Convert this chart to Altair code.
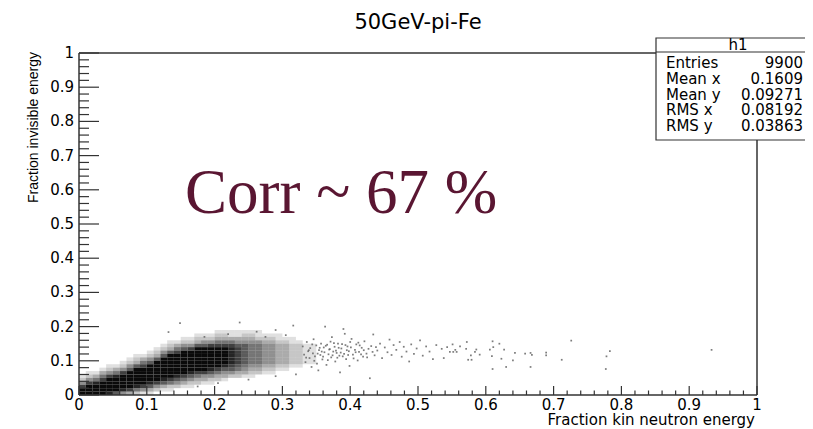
import altair as alt
import pandas as pd

# ---------------- data ----------------
title_text = "50GeV-pi-Fe"
x_title = "Fraction kin neutron energy"
y_title = "Fraction invisible energy"
annotation = "Corr ~ 67 %"
stats_header = "h1"
stats_labels = ["Entries", "Mean x", "Mean y", "RMS x", "RMS y"]
stats_values = ["9900", "0.1609", "0.09271", "0.08192", "0.03863"]

major_ticks = [0.0, 0.1, 0.2, 0.3, 0.4, 0.5, 0.6, 0.7, 0.8, 0.9, 1.0]
major_labels = ["0", "0.1", "0.2", "0.3", "0.4", "0.5", "0.6", "0.7", "0.8", "0.9", "1"]
minor_ticks = [0.02, 0.04, 0.06, 0.08, 0.12, 0.14, 0.16, 0.18, 0.22, 0.24, 0.26, 0.28,
               0.32, 0.34, 0.36, 0.38, 0.42, 0.44, 0.46, 0.48, 0.52, 0.54, 0.56, 0.58,
               0.62, 0.64, 0.66, 0.68, 0.72, 0.74, 0.76, 0.78, 0.82, 0.84, 0.86, 0.88,
               0.92, 0.94, 0.96, 0.98]

# density of the dense scatter core: one string per 0.01-wide x bin (x = 0.00 ...),
# each character = darkness (0-9) of the 0.01-high y bin, from y = 0 upward
bin_size = 0.01
density_columns = [
    "9974210000000000000000",
    "9997421000000000000000",
    "9998531000000000000000",
    "9999753100000000000000",
    "8999974210000000000000",
    "6999985310000000000000",
    "4899997421000000000000",
    "3799999642100000000000",
    "2589999963210000000000",
    "1479999975310000000000",
    "1368999996421000000000",
    "0247999999632100000000",
    "0136899999964210000000",
    "0125799999996321000000",
    "0024689999997531000000",
    "0013579999999642100000",
    "0012468999999742100000",
    "0002357999999963210000",
    "0001347999999964210000",
    "0001246899999974210000",
    "0000235799999975321000",
    "0000134689999975321000",
    "0000024678888875311000",
    "0000023567777764311000",
    "0000013456666664321000",
    "0000012345555554321000",
    "0000002345555554211000",
    "0000001234444443210000",
    "0000001234444443210000",
    "0000000123333332110000",
    "0000000123333332100000",
    "0000000012222221100000",
    "0000000012222221000000",
    "0000000001111110000000",
    "0000000001111110000000",
]

# isolated points of the sparse tail
sparse_x = [0.132, 0.149, 0.237, 0.316, 0.185, 0.262, 0.290, 0.305, 0.275, 0.220,
            0.205, 0.250, 0.290, 0.320, 0.175,
            0.330, 0.332, 0.334, 0.336, 0.338, 0.340, 0.341, 0.343, 0.345, 0.346,
            0.348, 0.350, 0.351, 0.353, 0.354, 0.356, 0.357, 0.359, 0.361, 0.362,
            0.363, 0.365, 0.366, 0.368, 0.369,
            0.371, 0.372, 0.373, 0.375, 0.377, 0.378, 0.380, 0.382, 0.384, 0.385,
            0.387, 0.388, 0.390, 0.391, 0.392, 0.394, 0.396, 0.398, 0.399, 0.400,
            0.402, 0.404, 0.407, 0.409, 0.411, 0.413, 0.414, 0.417, 0.419, 0.421,
            0.424, 0.427, 0.429, 0.431, 0.434, 0.436, 0.440, 0.444, 0.447,
            0.451, 0.455, 0.458, 0.461, 0.464, 0.468, 0.473, 0.476, 0.479, 0.483,
            0.487, 0.490, 0.494, 0.498, 0.503, 0.507, 0.512, 0.517, 0.522, 0.527,
            0.535, 0.538, 0.543, 0.547, 0.551, 0.552, 0.555, 0.557, 0.562, 0.571,
            0.572, 0.574, 0.578, 0.579, 0.584, 0.586, 0.591, 0.606, 0.609, 0.610,
            0.610, 0.611, 0.620, 0.623, 0.627, 0.630, 0.640, 0.643, 0.658, 0.666,
            0.666, 0.668, 0.689, 0.689, 0.712, 0.726, 0.777, 0.778, 0.783, 0.933,
            0.335, 0.339, 0.344, 0.347, 0.352, 0.355, 0.358, 0.360, 0.364, 0.367,
            0.370, 0.374, 0.376, 0.379, 0.381, 0.383, 0.386, 0.389, 0.393, 0.395,
            0.397, 0.401, 0.405, 0.408, 0.412, 0.416, 0.420, 0.425, 0.433, 0.438]
sparse_y = [0.184, 0.210, 0.212, 0.203, 0.170, 0.185, 0.190, 0.175, 0.170, 0.178,
            0.035, 0.045, 0.055, 0.060, 0.025,
            0.142, 0.118, 0.096, 0.155, 0.128, 0.108, 0.137, 0.082, 0.122, 0.163,
            0.113, 0.145, 0.092, 0.072, 0.131, 0.117, 0.150, 0.104, 0.139, 0.125,
            0.200, 0.088, 0.147, 0.119, 0.133,
            0.156, 0.110, 0.169, 0.127, 0.141, 0.098, 0.123, 0.150, 0.115, 0.066,
            0.136, 0.149, 0.193, 0.120, 0.179, 0.105, 0.142, 0.128, 0.085, 0.155,
            0.164, 0.118, 0.132, 0.148, 0.101, 0.126, 0.145, 0.138, 0.112, 0.157,
            0.121, 0.135, 0.049, 0.143, 0.177, 0.116, 0.130, 0.150, 0.108,
            0.139, 0.125, 0.162, 0.117, 0.146, 0.132, 0.155, 0.112, 0.141, 0.127,
            0.098, 0.148, 0.120, 0.136, 0.160, 0.115, 0.142, 0.127, 0.105, 0.146,
            0.135, 0.108, 0.140, 0.126, 0.148, 0.126, 0.132, 0.126, 0.142, 0.135,
            0.155, 0.103, 0.116, 0.103, 0.126, 0.133, 0.118, 0.133, 0.114, 0.157,
            0.076, 0.140, 0.150, 0.106, 0.133, 0.082, 0.101, 0.123, 0.121, 0.123,
            0.082, 0.117, 0.124, 0.116, 0.103, 0.159, 0.076, 0.113, 0.128, 0.132,
            0.109, 0.131, 0.148, 0.100, 0.121, 0.138, 0.127, 0.112, 0.144, 0.102,
            0.134, 0.116, 0.152, 0.130, 0.109, 0.138, 0.124, 0.113, 0.146, 0.131,
            0.117, 0.139, 0.107, 0.125, 0.153, 0.119, 0.131, 0.110, 0.126, 0.140]

# ---------------- tables ----------------
cells = []
for i, col in enumerate(density_columns):
    for j, ch in enumerate(col):
        if ch != "0":
            cells.append({"x0": i * bin_size, "x1": (i + 1) * bin_size,
                          "y0": j * bin_size, "y1": (j + 1) * bin_size,
                          "level": int(ch)})
cells_df = pd.DataFrame(cells)
sparse_df = pd.DataFrame({"x": sparse_x, "y": sparse_y})
major_df = pd.DataFrame({"v": major_ticks, "label": major_labels})
minor_df = pd.DataFrame({"v": minor_ticks})

W, H = 678, 342
LINE = "#333333"
SANS = "DejaVu Sans"
xs = alt.Scale(domain=[0, 1], nice=False, zero=False)
ys = alt.Scale(domain=[0, 1], nice=False, zero=False)


def one(text):
    return pd.DataFrame({"t": [text]})


cells_layer = alt.Chart(cells_df).mark_rect(color="black", strokeWidth=0).encode(
    x=alt.X("x0:Q", scale=xs, axis=None), x2="x1:Q",
    y=alt.Y("y0:Q", scale=ys, axis=None), y2="y1:Q",
    opacity=alt.Opacity("level:Q", scale=alt.Scale(domain=[1, 9], range=[0.12, 0.96]), legend=None),
)

sparse_layer = alt.Chart(sparse_df).mark_square(size=3, color="#666666", opacity=0.85).encode(
    x=alt.X("x:Q", scale=xs, axis=None), y=alt.Y("y:Q", scale=ys, axis=None)
)

frame = [
    alt.Chart(one("l")).mark_rule(color=LINE, strokeWidth=1.5).encode(x=alt.value(0), y=alt.value(0), y2=alt.value(H)),
    alt.Chart(one("b")).mark_rule(color=LINE, strokeWidth=1.5).encode(x=alt.value(0), x2=alt.value(W), y=alt.value(H)),
    alt.Chart(one("r")).mark_rule(color=LINE, strokeWidth=1.5).encode(x=alt.value(W), y=alt.value(0), y2=alt.value(H)),
    alt.Chart(one("t")).mark_rule(color=LINE, strokeWidth=1.5).encode(x=alt.value(0), x2=alt.value(W), y=alt.value(0)),
]

ticks = [
    alt.Chart(major_df).mark_rule(color=LINE, strokeWidth=1.2).encode(
        y=alt.Y("v:Q", scale=ys, axis=None), x=alt.value(0), x2=alt.value(20)),
    alt.Chart(minor_df).mark_rule(color=LINE, strokeWidth=1.2).encode(
        y=alt.Y("v:Q", scale=ys, axis=None), x=alt.value(0), x2=alt.value(10)),
    alt.Chart(major_df).mark_rule(color=LINE, strokeWidth=1.2).encode(
        x=alt.X("v:Q", scale=xs, axis=None), y=alt.value(H), y2=alt.value(H - 9)),
    alt.Chart(minor_df).mark_rule(color=LINE, strokeWidth=1.2).encode(
        x=alt.X("v:Q", scale=xs, axis=None), y=alt.value(H), y2=alt.value(H - 4.5)),
]

tick_labels = [
    alt.Chart(major_df).mark_text(font=SANS, fontSize=15, align="right", baseline="middle",
                                  dx=-5, color="black").encode(
        y=alt.Y("v:Q", scale=ys, axis=None), x=alt.value(0), text="label:N"),
    alt.Chart(major_df).mark_text(font=SANS, fontSize=15, align="center", baseline="alphabetic",
                                  color="black").encode(
        x=alt.X("v:Q", scale=xs, axis=None), y=alt.value(H + 15), text="label:N"),
]

texts = [
    alt.Chart(one(title_text)).mark_text(font=SANS, fontSize=21, align="center", baseline="alphabetic",
                                         color="black").encode(
        x=alt.value(W / 2), y=alt.value(-24), text="t:N"),
    alt.Chart(one(x_title)).mark_text(font=SANS, fontSize=15, align="right", baseline="alphabetic",
                                      color="black").encode(
        x=alt.value(W - 2), y=alt.value(H + 30), text="t:N"),
    alt.Chart(one(y_title)).mark_text(font="Liberation Sans", fontSize=14, angle=270, align="right",
                                      baseline="alphabetic", color="black").encode(
        x=alt.value(-41), y=alt.value(-1), text="t:N"),
    alt.Chart(one(annotation)).mark_text(font="Liberation Serif", fontSize=63, align="left",
                                         baseline="alphabetic", color="#5a1632").encode(
        x=alt.value(106), y=alt.value(160), text="t:N"),
]

BX0, BX1 = 577, 760
stats = [
    alt.Chart(one("box")).mark_rect(fill="white", stroke=LINE, strokeWidth=1.2).encode(
        x=alt.value(BX0), x2=alt.value(BX1), y=alt.value(-15), y2=alt.value(87)),
    alt.Chart(one("sep")).mark_rule(color=LINE, strokeWidth=1.2).encode(
        x=alt.value(BX0), x2=alt.value(BX1), y=alt.value(-1)),
    alt.Chart(one(stats_header)).mark_text(font=SANS, fontSize=15, align="center", baseline="alphabetic",
                                           color="black").encode(
        x=alt.value(659), y=alt.value(-3), text="t:N"),
]
row_y = [15, 31, 46.5, 62, 77.5]
for lab, val, yy in zip(stats_labels, stats_values, row_y):
    stats.append(alt.Chart(one(lab)).mark_text(font=SANS, fontSize=15, align="left", baseline="alphabetic",
                                               color="black").encode(
        x=alt.value(587), y=alt.value(yy), text="t:N"))
    stats.append(alt.Chart(one(val)).mark_text(font=SANS, fontSize=15, align="right", baseline="alphabetic",
                                               color="black").encode(
        x=alt.value(724), y=alt.value(yy), text="t:N"))

chart = alt.layer(
    cells_layer, sparse_layer, *frame, *ticks, *tick_labels, *texts, *stats
).properties(
    width=W, height=H,
    padding={"left": 71, "top": 45, "right": 48, "bottom": 34},
    autosize=alt.AutoSizeParams(type="none"),
).configure_view(stroke=None)

chart.save("out.html", embed_options={"renderer": "svg", "actions": False})
